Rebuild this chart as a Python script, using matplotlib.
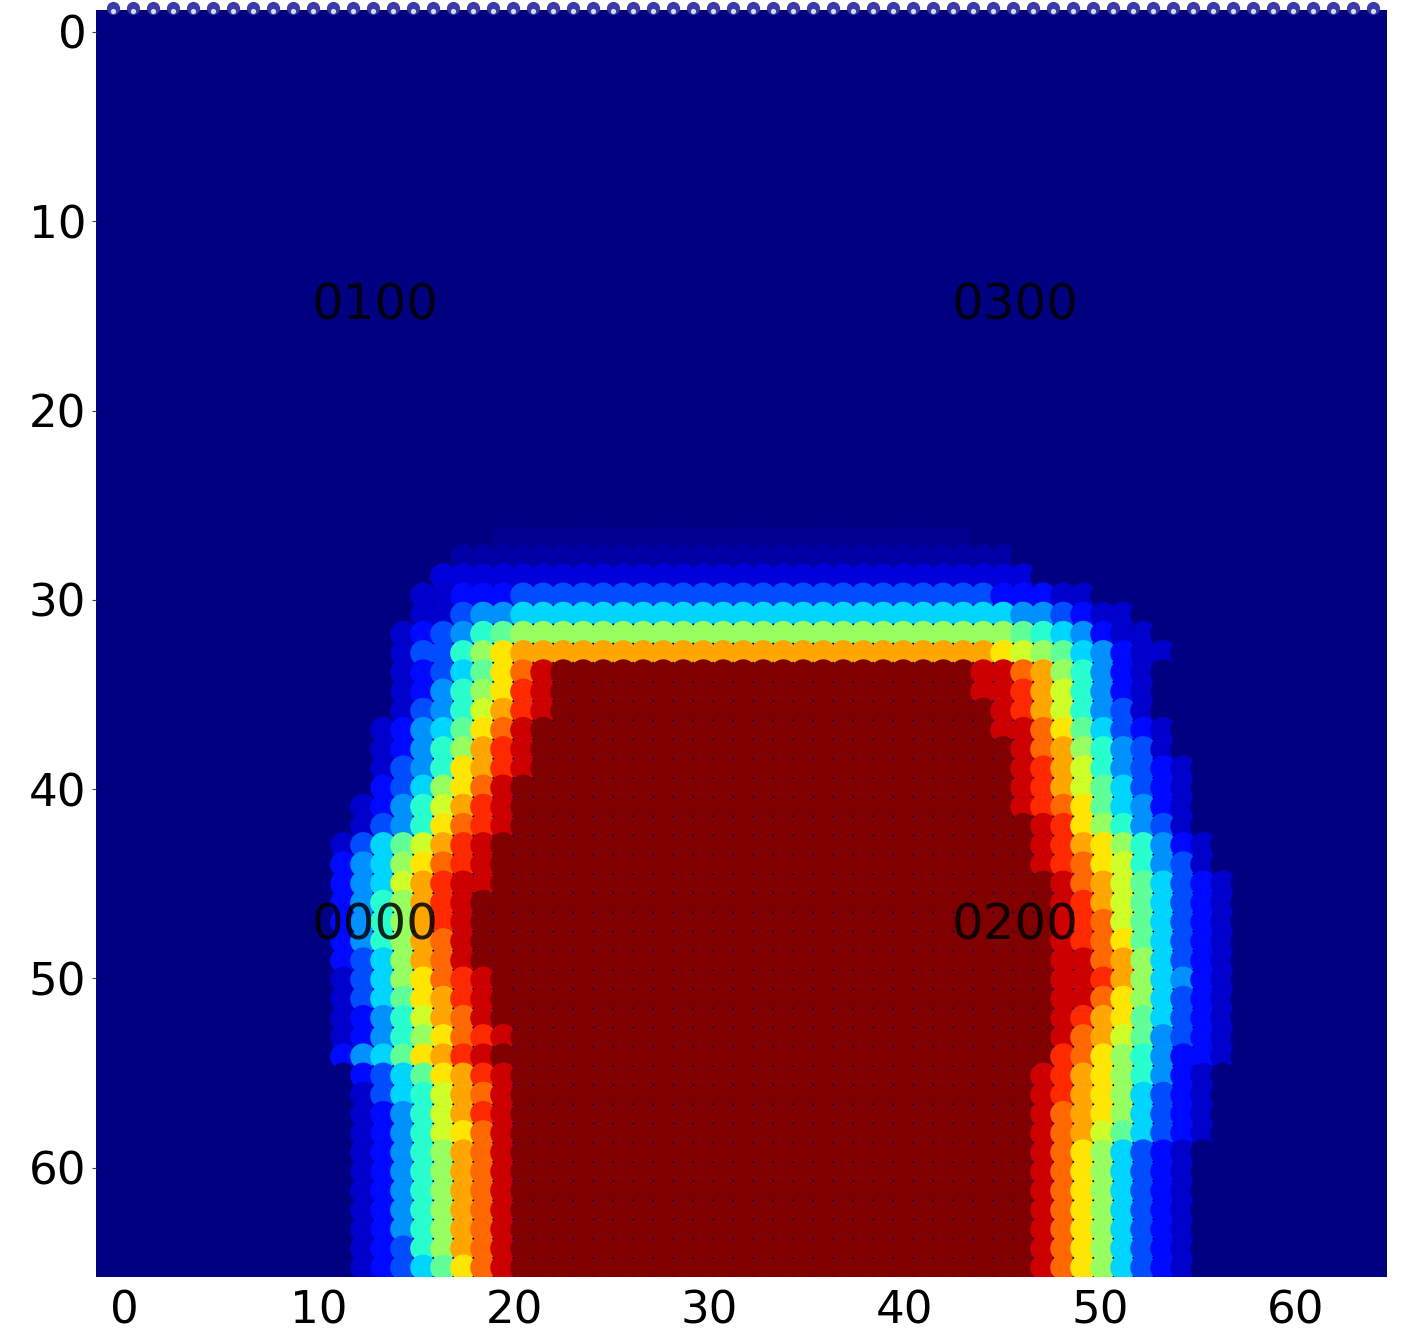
import matplotlib
matplotlib.use('Agg')
import matplotlib.pyplot as plt
import numpy as np

N_COLS = 65
N_ROWS = 66

# rows 27..65, levels are 0-15 on the jet scale (hex digit per column)
FIRST_ROW = 27
left_start = [20, 18, 17, 16, 16, 15, 15, 15, 15, 15, 14, 14, 14, 14, 13, 13,
              12, 12, 12, 12, 12, 12, 12, 12, 12, 12, 12, 12, 13, 13, 13, 13,
              13, 13, 13, 13, 13, 13, 13]
left_band = ['', '', '', '112223', '113445', '123467', '13368a', '12357ace',
             '12468ade', '13469bde', '12457ace', '12468bde', '1346abde',
             '2358ace', '12469bde', '1346acde', '13579bde', '2458acde',
             '2459bdee', '2468bde', '2468bde', '2468bce', '2358bce',
             '1358acde', '1357abde', '12469bce', '12468acde', '2457abde',
             '2357abde', '13569bce', '12469bde', '12469ace', '12468bce',
             '12468bce', '12468bce', '12468bce', '12468bce', '12368bce',
             '12357ace']
mid_level = [0.2, 0.5, 1.2, 3, 5, 8, 11] + [15] * 32
right_start = [44, 46, 47, 45, 46, 46, 45, 44, 44, 45, 45, 46, 46, 46, 46, 47,
               47, 47, 48, 48, 48, 48, 48, 48, 48, 48, 48, 48, 47, 47, 47, 47,
               47, 47, 47, 47, 47, 47, 47]
right_band = ['', '', '', '22211', '443211', '7654211', 'a98754211',
              'eecb86421', 'eedb96421', 'edb96431', 'eeca75321', 'ecb86431',
              'edb964321', 'edb975321', 'edca75421', 'eda86431', 'edba86421',
              'edca96431', 'ecb975321', 'edb975321', 'edc975321', 'edca75321',
              'eecb85321', 'eedb85421', 'eeca85321', 'edba75321', 'ecb974321',
              'dca864221', 'edba86421', 'edba85321', 'ecba85321', 'ecb975321',
              'eca85321', 'eca85321', 'eca85321', 'eca85321', 'eca85321',
              'eca85321', 'eca85321']

tick_values = [0, 10, 20, 30, 40, 50, 60]
label_names = ['0100', '0300', '0000', '0200']
label_x = [12.86, 45.65, 12.86, 45.65]
label_y = [14.47, 14.47, 47.2, 47.2]

grid = np.zeros((N_ROWS, N_COLS))
for i in range(len(left_band)):
    row = FIRST_ROW + i
    grid[row, left_start[i]:right_start[i]] = mid_level[i]
    for k, ch in enumerate(left_band[i]):
        grid[row, left_start[i] + k] = int(ch, 16)
    for k, ch in enumerate(right_band[i]):
        grid[row, right_start[i] + k] = int(ch, 16)

fig = plt.figure(figsize=(14.16, 13.40), dpi=100)
ax = fig.add_axes([96 / 1416, 1 - 1277 / 1340, (1387 - 96) / 1416, (1277 - 10) / 1340])

# cells are a little wider than one axis unit
dx = 1.0246
dy = 1.0143
xs, ys = np.meshgrid(-1.066 + dx * np.arange(N_COLS), -0.66 + dy * np.arange(N_ROWS))

ax.set_facecolor('#000080')
ax.scatter(xs.ravel(), ys.ravel(), c=grid.ravel() / 15, cmap='jet', vmin=0, vmax=1,
           s=(26 * 0.72) ** 2, marker='o', linewidths=0)
ax.set_xlim(-1.434, 64.70)
ax.set_ylim(65.77, -1.162)

# little bumps along the top edge
top_x = -0.56 + dx * np.arange(N_COLS - 1)
ax.scatter(top_x, np.full(N_COLS - 1, -1.25), s=90, color='#3a3aa8', linewidths=0,
           clip_on=False, zorder=3)
ax.scatter(top_x, np.full(N_COLS - 1, -1.1), s=14, color='#d8d8f0', linewidths=0,
           clip_on=False, zorder=4)

for name, x, y in zip(label_names, label_x, label_y):
    ax.text(x, y, name, ha='center', va='center', fontsize=36, color='black', alpha=0.85,
            family=['Liberation Sans Narrow', 'DejaVu Sans'])

ax.set_xticks(tick_values)
ax.set_yticks(tick_values)
ax.tick_params(axis='both', labelsize=32.5, color='#444444')
ax.tick_params(axis='x', length=0, pad=9)
ax.tick_params(axis='y', length=3, pad=4)
for s in ax.spines.values():
    s.set_visible(False)

plt.savefig('out.png', dpi=100)
